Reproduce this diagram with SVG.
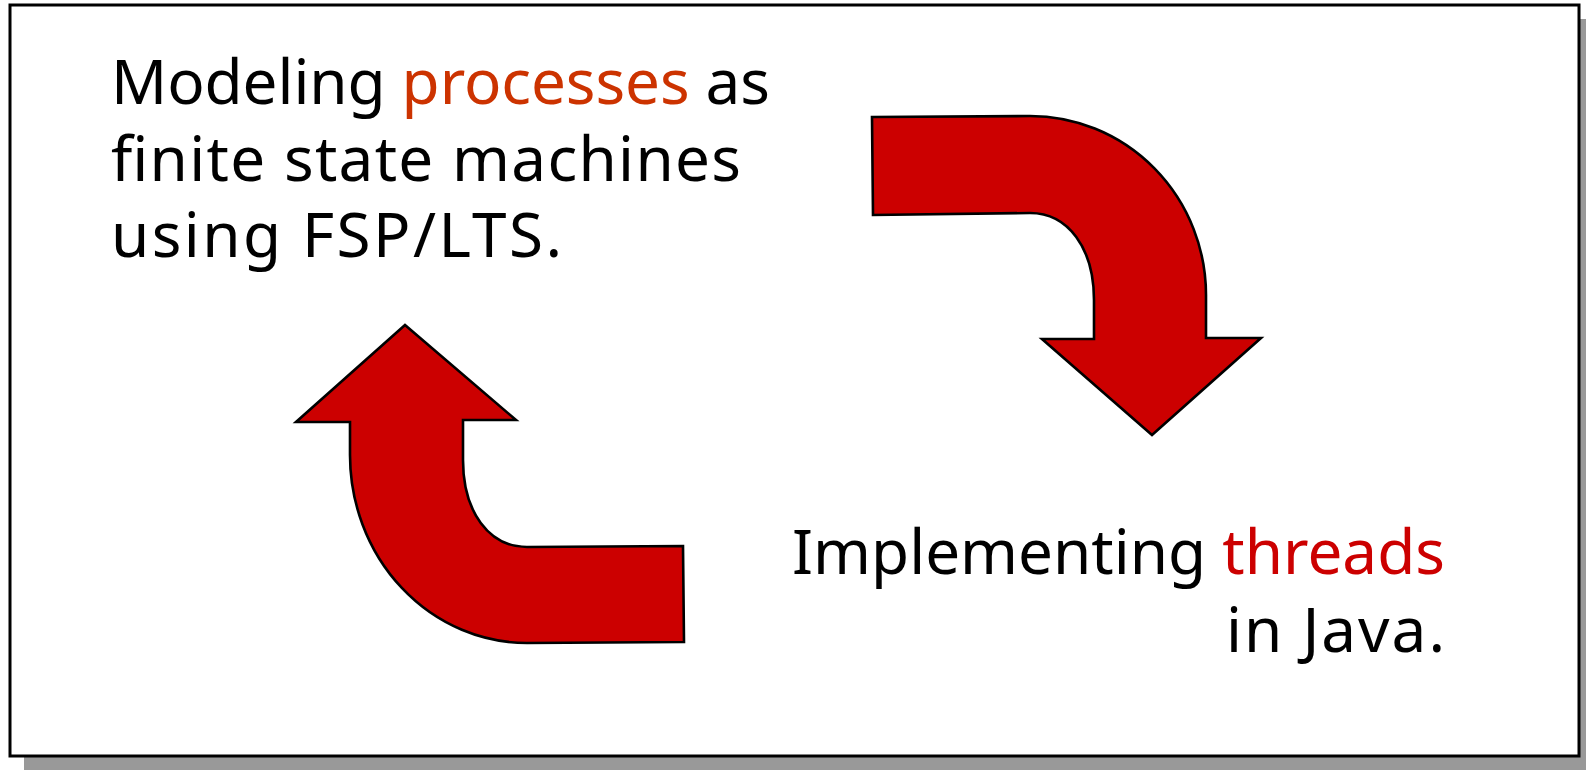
<svg xmlns="http://www.w3.org/2000/svg" width="1586" height="770" viewBox="0 0 1586 770">
  <style>
    .lbl { font-family: "Noto Sans", "DejaVu Sans", sans-serif; font-size: 62px; fill: #000000; }
    .proc { fill: #CC3300; }
    .thr { fill: #CC0000; }
    .arrow { fill: #CC0000; stroke: #000000; stroke-width: 2.6; stroke-linejoin: miter; }
  </style>
  <g id="background">
    <rect x="24" y="19" width="1569" height="751" fill="#999999"/>
    <rect x="10" y="5" width="1569" height="751" fill="#FFFFFF" stroke="#000000" stroke-width="3"/>
  </g>
  <g id="node-modeling">
    <text class="lbl" x="111" y="104" textLength="659" lengthAdjust="spacing">Modeling <tspan class="proc">processes</tspan> as</text>
    <text class="lbl" x="111" y="181" textLength="630" lengthAdjust="spacing">finite state machines</text>
    <text class="lbl" x="111" y="257" textLength="451" lengthAdjust="spacing">using FSP/LTS.</text>
  </g>
  <g id="node-implementing">
    <text class="lbl" x="792" y="574" textLength="653" lengthAdjust="spacing">Implementing <tspan class="thr">threads</tspan></text>
    <text class="lbl" x="1226" y="652" textLength="219" lengthAdjust="spacing">in Java.</text>
  </g>
  <g id="connectors">
    <path id="arrow-down" class="arrow" d="M872,117 L1030,116 A176,179 0 0 1 1206,295 L1206,338 L1261,338 L1152,435 L1042,339 L1094,339 L1094,300 C1094,248 1068,213 1030,213 L873,215 Z"/>
    <path id="arrow-up" class="arrow" d="M405,325 L516,420 L463,420 L463,460 C463,512 489,547 527,547 L683,546 L684,642 L527,643 A177,188 0 0 1 350,455 L350,422 L296,422 Z"/>
  </g>
</svg>
